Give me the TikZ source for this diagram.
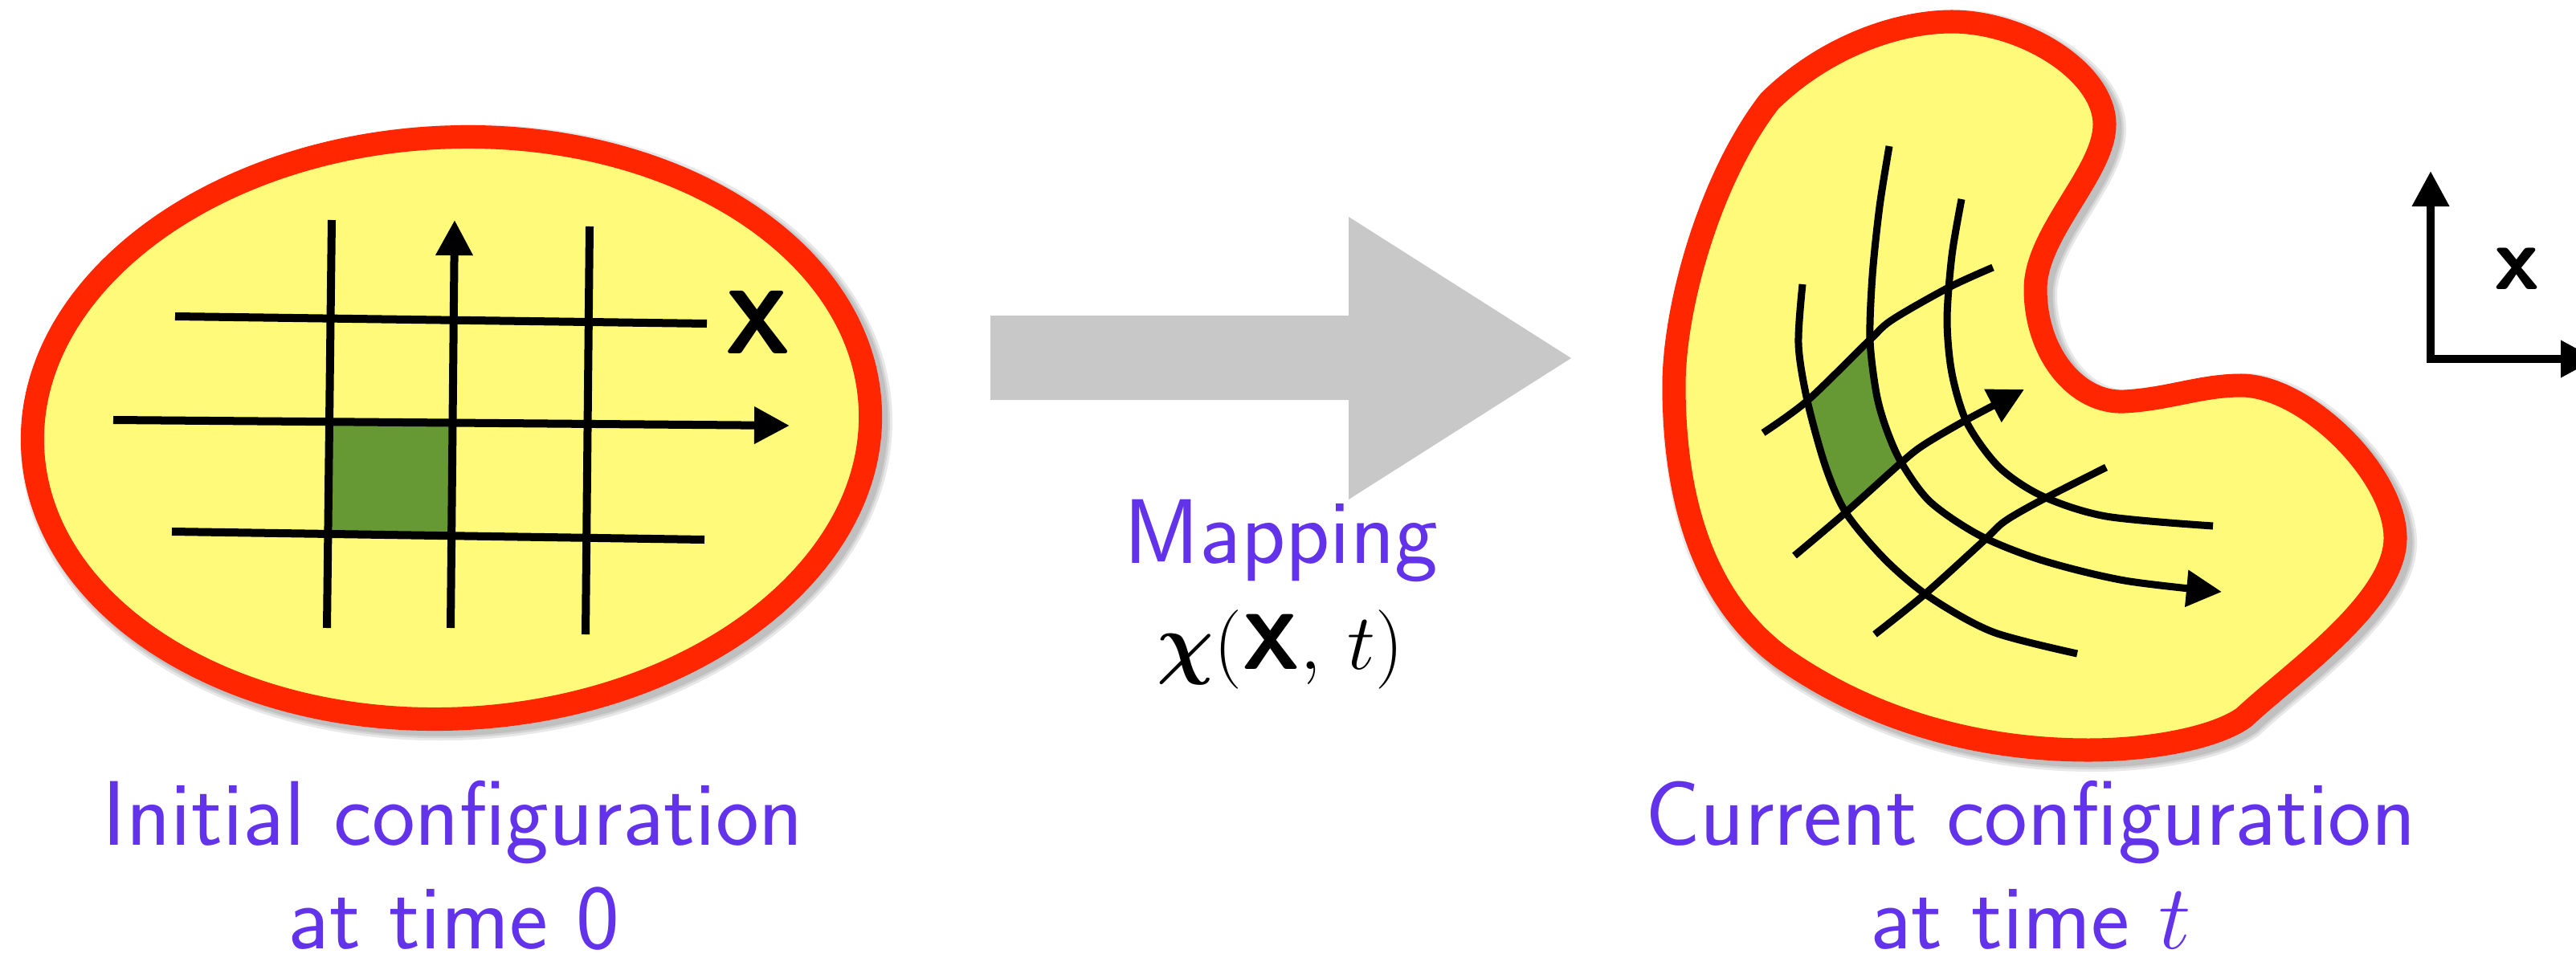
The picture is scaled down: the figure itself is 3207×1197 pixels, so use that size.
\RequirePackage{fix-cm}
\documentclass[tikz,border=0pt]{standalone}
\usepackage{amsmath}
\usetikzlibrary{arrows.meta}
\definecolor{fillY}{RGB}{255,250,122}
\definecolor{edgeR}{RGB}{255,38,0}
\definecolor{cellG}{RGB}{102,153,51}
\definecolor{labelP}{RGB}{98,51,234}
\definecolor{arrowG}{RGB}{200,200,200}
\def\EllPath{(562,533) ellipse [x radius=522, y radius=362]}
\def\KidPath{(2430,27) .. controls (2520,27) and (2620,90) .. (2620,155)
  .. controls (2620,215) and (2534,290) .. (2534,360)
  .. controls (2534,440) and (2585,503) .. (2645,500)
  .. controls (2700,497) and (2740,480) .. (2790,480)
  .. controls (2870,480) and (2982,590) .. (2982,670)
  .. controls (2982,750) and (2850,840) .. (2794,893)
  .. controls (2760,918) and (2680,934) .. (2600,934)
  .. controls (2450,934) and (2320,890) .. (2220,820)
  .. controls (2110,740) and (2084,600) .. (2084,480)
  .. controls (2084,380) and (2130,220) .. (2203,126)
  .. controls (2270,60) and (2360,27) .. (2430,27) -- cycle}
\begin{document}
\begin{tikzpicture}[x=0.01cm,y=-0.01cm,
  gridline/.style={line width=0.1cm, black},
  curveline/.style={line width=0.09cm, black},
  tipped/.style={-{Triangle[length=0.44cm,width=0.44cm]}},
  body/.style={fill=fillY, draw=edgeR, line width=0.29cm},
  shadowline/.style={draw=black, opacity=0.09},
  lbl/.style={text=labelP, font=\fontsize{32.5}{38}\selectfont\sffamily, inner sep=0pt, anchor=base},
  sym/.style={inner sep=0pt, anchor=base, font=\fontsize{32}{38}\selectfont\sffamily\bfseries},
]
\useasboundingbox (0,0) rectangle (3207,1197);

% ---------- initial configuration ----------
\begin{scope}[rotate around={3:(562,533)}]
  \foreach \w in {0.42,0.36,0.31}
    \draw[shadowline, line width=\w cm, shift={(6,6)}] \EllPath;
  \path[body] \EllPath;
\end{scope}
\fill[cellG] (410,525) -- (563,527) -- (562,667) -- (408,665) -- cycle;
\draw[gridline] (413,274) -- (407,782);
\draw[gridline, tipped] (561,782) -- (566,274);
\draw[gridline] (734,282) -- (729,790);
\draw[gridline] (218,394) -- (880,403);
\draw[gridline, tipped] (141,523) -- (983,530);
\draw[gridline] (214,662) -- (877,672);
\node[sym] (Xref) at (944,440) {X};

% ---------- mapping arrow ----------
\fill[arrowG] (1233,393) -- (1679,393) -- (1679,270) -- (1956,446) -- (1679,622) -- (1679,498) -- (1233,498) -- cycle;
\node[lbl] (map) at (1595,701) {Mapping};
\node[inner sep=0pt, anchor=base, font=\fontsize{28}{34}\selectfont] (formula) at (1594,833) {\mbox{\boldmath$\chi$}$(\textsf{\bfseries X},\, t)$};

% ---------- current configuration ----------
\foreach \w in {0.42,0.36,0.31}
  \draw[shadowline, line width=\w cm, shift={(6,6)}] \KidPath;
\path[body, line join=round] \KidPath;
\fill[cellG] (2250,499) -- (2328,423)
  -- plot[smooth] coordinates {(2328,423) (2336,490) (2348,533) (2367,576)}
  -- (2299,637)
  -- plot[smooth] coordinates {(2299,637) (2273,582) (2250,499)} -- cycle;
% "vertical" curves
\draw[curveline] plot[smooth] coordinates {(2244,354) (2239,429) (2250,499) (2273,582) (2299,640) (2348,698) (2403,744) (2481,787) (2586,814)};
\draw[curveline, tipped] plot[smooth] coordinates {(2352,182) (2340,257) (2331,343) (2328,423) (2336,490) (2348,533) (2367,576) (2403,625) (2465,667) (2543,698) (2645,723) (2766,737)};
\draw[curveline] plot[smooth] coordinates {(2442,248) (2430,318) (2424,398) (2430,465) (2449,527) (2489,582) (2543,618) (2622,643) (2755,655)};
% "horizontal" curves
\draw[curveline] plot[smooth] coordinates {(2195,539) (2250,499) (2328,423) (2356,398) (2426,358) (2481,333)};
\draw[curveline, tipped] plot[smooth] coordinates {(2234,692) (2299,637) (2367,576) (2395,554) (2446,524) (2520,485)};
\draw[curveline] plot[smooth] coordinates {(2334,790) (2395,741) (2469,674) (2496,649) (2543,622) (2622,582)};

% ---------- axes ----------
\coordinate (O) at (3026,447);
\coordinate (yend) at (3026,213);
\coordinate (xend) at (3232,447);
\draw[gridline, {Triangle[length=0.44cm,width=0.44cm]}-{Triangle[length=0.44cm,width=0.44cm]}, line join=miter] (yend) -- (O) -- (xend);
\node[sym] (xcur) at (3134,360) {x};

% ---------- labels ----------
\node[lbl] (init1) at (564,1052) {Initial configuration};
\node[lbl] (init2) at (565,1181) {at time 0};
\node[lbl] (cur1) at (2528,1052) {Current configuration};
\node[lbl] (cur2) at (2528,1181) {at time $t$};
\end{tikzpicture}
\end{document}
